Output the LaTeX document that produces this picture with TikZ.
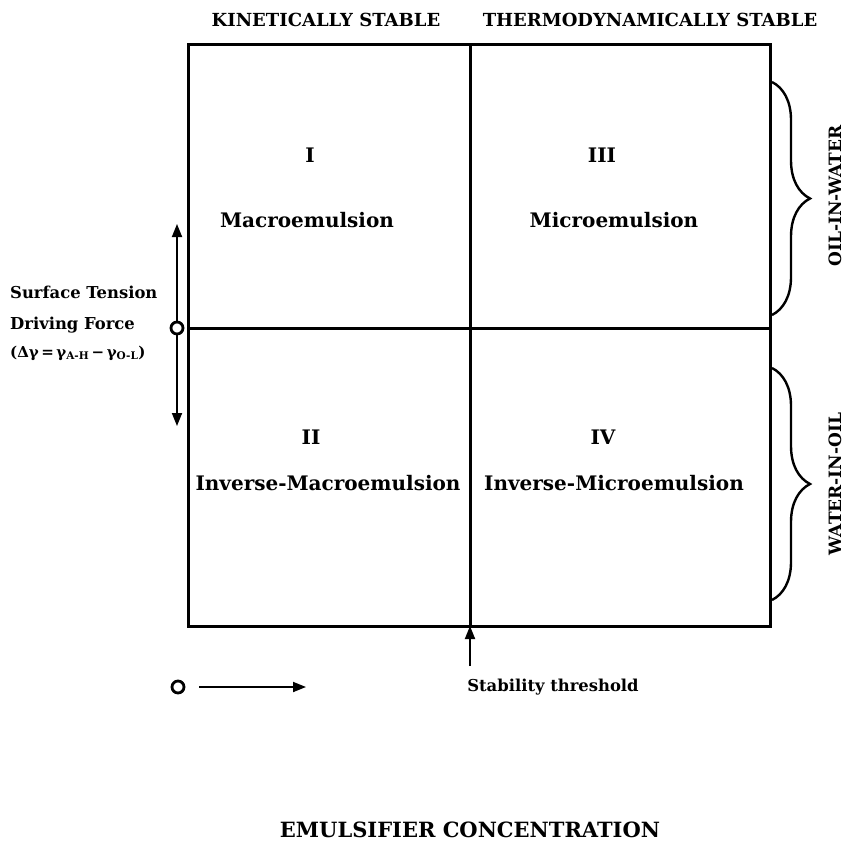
\documentclass[tikz,border=0pt]{standalone}
\usepackage{fontspec}
\setmainfont{DejaVu Serif}
\usetikzlibrary{arrows.meta,decorations.pathreplacing}
\begin{document}
\begin{tikzpicture}[x=1pt,y=-1pt,
  txt/.style={inner sep=0pt,font=\bfseries\fontsize{#1}{#1}\selectfont},
  txt/.default=14,
  boxline/.style={line width=3pt},
  arr/.style={line width=1.8pt,-{Triangle[length=13pt,width=10pt]}},
  ring/.style={circle,draw,line width=2.8pt,inner sep=0pt,minimum size=12pt},
  bracestyle/.style={line width=2.4pt,decorate,decoration={brace,amplitude=38pt,raise=0pt}}]
\useasboundingbox (0,0) rectangle (845,851);
% grid
\coordinate (tl) at (188,45);
\coordinate (br) at (770,626);
\coordinate (tm) at (470,45);
\coordinate (bm) at (470,626);
\coordinate (ml) at (188,328);
\coordinate (mr) at (770,328);
\draw[boxline] (tl) rectangle (br);
\draw[boxline] (tm) -- (bm);
\draw[boxline] (ml) -- (mr);
% top labels
\node[txt=18] (kin) at (326,20) {KINETICALLY STABLE};
\node[txt=18] (thermo) at (650,20) {THERMODYNAMICALLY STABLE};
% cells
\node[txt=20] (n1) at (310,155) {I};
\node[txt=20] (m1) at (307,220) {Macroemulsion};
\node[txt=20] (n3) at (602,155) {III};
\node[txt=20] (m3) at (614,220) {Microemulsion};
\node[txt=20] (n2) at (311,437) {II};
\node[txt=20] (m2) at (328,483) {Inverse-Macroemulsion};
\node[txt=20] (n4) at (603,437) {IV};
\node[txt=20] (m4) at (614,483) {Inverse-Microemulsion};
% braces
\coordinate (b1t) at (772,82);
\coordinate (b1b) at (772,315);
\coordinate (b2t) at (772,368);
\coordinate (b2b) at (772,600);
\draw[bracestyle] (b1t) -- (b1b);
\draw[bracestyle] (b2t) -- (b2b);
\node[txt=17,rotate=90] (oiw) at (835,196) {OIL-IN-WATER};
\node[txt=17,rotate=90] (wio) at (835,484) {WATER-IN-OIL};
% left arrow
\node[ring] (c1) at (177,328) {};
\coordinate (up) at (177,224);
\coordinate (dn) at (177,426);
\draw[arr] (c1) -- (up);
\draw[arr] (c1) -- (dn);
\node[txt=16.4,anchor=west] (st) at (10,292) {Surface Tension};
\node[txt=16.4,anchor=west] (df) at (10,325) {Driving Force};
\node[txt=15,anchor=west] (fm) at (10,353) {(Δγ\,=\,γ\textsubscript{A-H}\,−\,γ\textsubscript{O-L})};
% bottom
\node[ring] (c2) at (178,687) {};
\coordinate (c2s) at (199,687);
\coordinate (c2e) at (306,687);
\draw[arr] (c2s) -- (c2e);
\coordinate (thr) at (470,666);
\draw[arr] (thr) -- (bm);
\node[txt=16.4] (stab) at (553,687) {Stability threshold};
\node[txt=21] (emul) at (470,830) {EMULSIFIER CONCENTRATION};
\end{tikzpicture}
\end{document}
